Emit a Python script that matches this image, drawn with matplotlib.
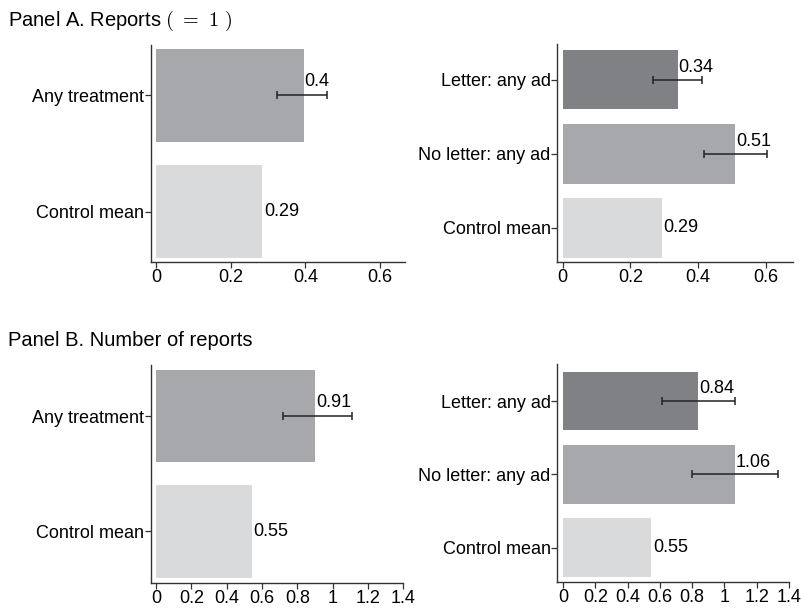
import numpy as np
import matplotlib
matplotlib.use('Agg')
import matplotlib.pyplot as plt

plt.rcParams['font.family'] = ['Liberation Sans', 'DejaVu Sans']
plt.rcParams['mathtext.fontset'] = 'cm'

# Panel A: Reports (=1)
a_left_labels = ['Any treatment', 'Control mean']
a_left_vals = [0.395, 0.285]
a_left_err_lo = [0.325, None]
a_left_err_hi = [0.458, None]
a_left_text = ['0.4', '0.29']

a_right_labels = ['Letter: any ad', 'No letter: any ad', 'Control mean']
a_right_vals = [0.34, 0.51, 0.293]
a_right_err_lo = [0.268, 0.417, None]
a_right_err_hi = [0.412, 0.603, None]
a_right_text = ['0.34', '0.51', '0.29']

# Panel B: Number of reports
b_left_labels = ['Any treatment', 'Control mean']
b_left_vals = [0.90, 0.542]
b_left_err_lo = [0.72, None]
b_left_err_hi = [1.11, None]
b_left_text = ['0.91', '0.55']

b_right_labels = ['Letter: any ad', 'No letter: any ad', 'Control mean']
b_right_vals = [0.838, 1.066, 0.547]
b_right_err_lo = [0.613, 0.796, None]
b_right_err_hi = [1.064, 1.331, None]
b_right_text = ['0.84', '1.06', '0.55']

dark = '#808185'
mid = '#a7a8ab'
light = '#d9dadc'
fs = 13


def panel(ax, labels, vals, lo, hi, texts, colors, xlim, ylim, xticks, xticklabels):
    n = len(labels)
    ypos = np.arange(n)[::-1]
    ax.barh(ypos, vals, height=0.8, color=colors, zorder=1)
    for y, v, l, h, t in zip(ypos, vals, lo, hi, texts):
        if l is not None:
            ax.errorbar([(l + h) / 2], [y], xerr=[[(h - l) / 2]], fmt='none',
                        ecolor='#222222', elinewidth=1.1, capsize=3, capthick=1.1, zorder=3)
            ax.text(v + 0.004 * (xlim[1] - xlim[0]), y + 0.05, t, ha='left', va='bottom', fontsize=fs)
        else:
            ax.text(v + 0.008 * (xlim[1] - xlim[0]), y, t, ha='left', va='center', fontsize=fs)
    ax.set_yticks(ypos)
    ax.set_yticklabels(labels, fontsize=fs)
    ax.set_xticks(xticks)
    ax.set_xticklabels(xticklabels, fontsize=fs)
    ax.set_xlim(*xlim)
    ax.set_ylim(*ylim)
    for s in ['top', 'right']:
        ax.spines[s].set_visible(False)
    for s in ['left', 'bottom']:
        ax.spines[s].set_color('#333333')
        ax.spines[s].set_linewidth(1.0)
    ax.tick_params(direction='out', length=4, width=0.9, color='#333333', pad=1)


fig = plt.figure(figsize=(8.01, 6.08), dpi=100)

ax1 = fig.add_axes([0.1885, 0.569, 0.317, 0.357])
panel(ax1, a_left_labels, a_left_vals, a_left_err_lo, a_left_err_hi, a_left_text,
      [mid, light], (-0.0133, 0.666), (-0.435, 1.435),
      [0, 0.2, 0.4, 0.6], ['0', '0.2', '0.4', '0.6'])

ax2 = fig.add_axes([0.696, 0.569, 0.294, 0.359])
panel(ax2, a_right_labels, a_right_vals, a_right_err_lo, a_right_err_hi, a_right_text,
      [dark, mid, light], (-0.0148, 0.68), (-0.46, 2.486),
      [0, 0.2, 0.4, 0.6], ['0', '0.2', '0.4', '0.6'])

bt = [0, 0.2, 0.4, 0.6, 0.8, 1.0, 1.2, 1.4]
btl = ['0', '0.2', '0.4', '0.6', '0.8', '1', '1.2', '1.4']

ax3 = fig.add_axes([0.1885, 0.041, 0.315, 0.359])
panel(ax3, b_left_labels, b_left_vals, b_left_err_lo, b_left_err_hi, b_left_text,
      [mid, light], (-0.028, 1.40), (-0.448, 1.448), bt, btl)

ax4 = fig.add_axes([0.696, 0.043, 0.289, 0.358])
panel(ax4, b_right_labels, b_right_vals, b_right_err_lo, b_right_err_hi, b_right_text,
      [dark, mid, light], (-0.035, 1.40), (-0.466, 2.504), bt, btl)

fig.text(0.01, 0.966, r'Panel A. Reports $(\ =\ 1\ )$', fontsize=14.5, ha='left', va='center')
fig.text(0.01, 0.44, 'Panel B. Number of reports', fontsize=14.5, ha='left', va='center')

fig.savefig('out.png', dpi=100)
